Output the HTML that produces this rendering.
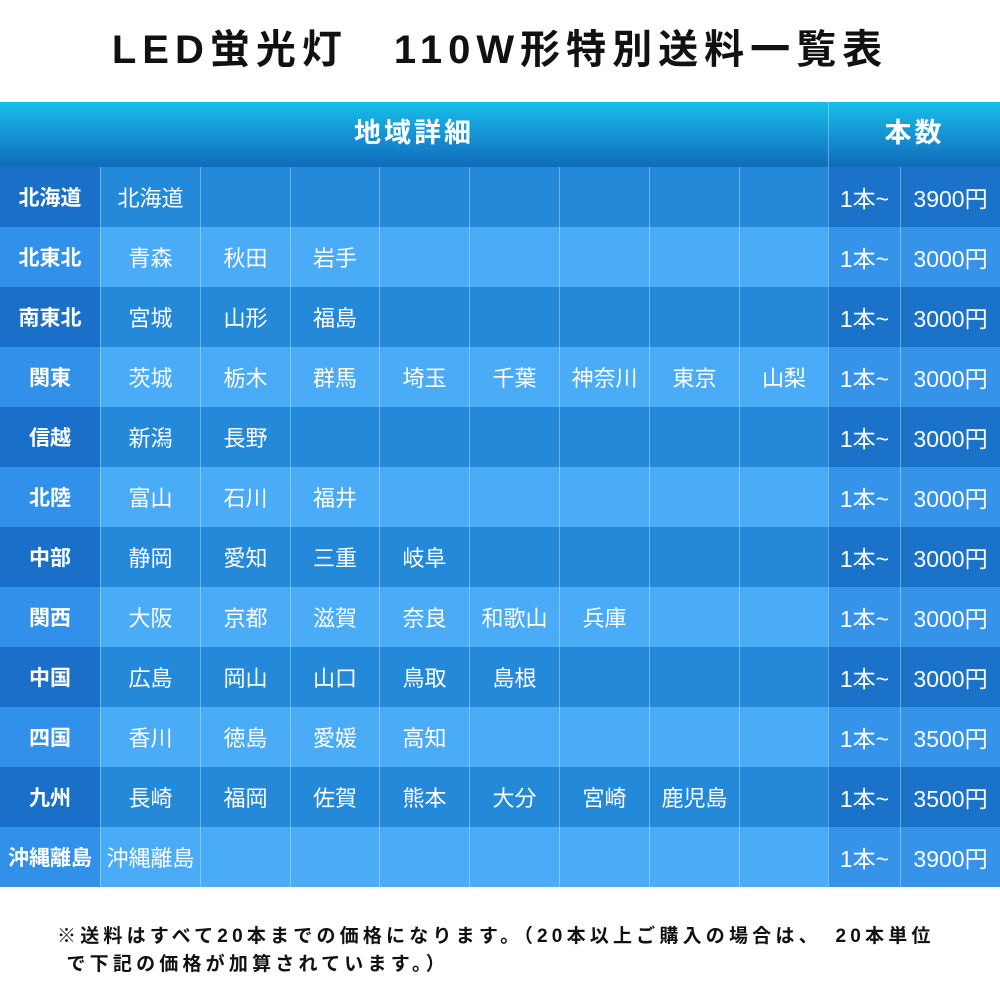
<!DOCTYPE html>
<html><head><meta charset="utf-8"><style>
*{margin:0;padding:0;box-sizing:border-box}
body{width:1000px;height:1000px;background:#fff;position:relative;overflow:hidden;font-family:"Liberation Sans","Noto Sans CJK JP",sans-serif}
.title{position:absolute;top:17px;left:0;width:1000px;text-align:center;font-size:40px;font-weight:bold;letter-spacing:6px;color:#111}
.hdr{position:absolute;top:102px;left:0;width:1000px;height:65px;background:linear-gradient(#17bfe7,#1590d3 55%,#0f6bb8);color:#fff;font-weight:bold;font-size:27px}
.hdr div{position:absolute;top:0;height:65px;line-height:62px;text-align:center;letter-spacing:3px}
.grid{position:absolute;top:167px;left:0;width:1000px;display:grid;grid-template-columns:100px 100px 90px 89px 90px 90px 90px 90px 89px 72px 100px;grid-auto-rows:60px}
.grid > .row{display:contents}
.row > div{display:flex;align-items:center;justify-content:center;color:#fff;font-size:22px;border-left:1px solid rgba(255,255,255,.35);white-space:nowrap}
.row > div.l{font-weight:bold;font-size:21px;border-left:none}
.row > div.r{font-size:23px}
.d .l{background:#1a6fc8}.d .m{background:#2489d9}.d .r{background:#1b72c9}
.e .l{background:#3190e9}.e .m{background:#4aabf7}.e .r{background:#3693ea}
.foot{position:absolute;left:57px;top:923px;font-size:19px;font-weight:bold;color:#111;letter-spacing:4.2px;line-height:28px;white-space:nowrap}
</style></head><body>
<div class="title">LED蛍光灯　110W形特別送料一覧表</div>
<div class="hdr"><div style="left:0;width:828px">地域詳細</div><div style="left:828px;width:172px;border-left:1px solid rgba(255,255,255,.35)">本数</div></div>
<div class="grid">
<div class="row d"><div class="l">北海道</div><div class="m">北海道</div><div class="m"></div><div class="m"></div><div class="m"></div><div class="m"></div><div class="m"></div><div class="m"></div><div class="m"></div><div class="r">1本~</div><div class="r">3900円</div></div>
<div class="row e"><div class="l">北東北</div><div class="m">青森</div><div class="m">秋田</div><div class="m">岩手</div><div class="m"></div><div class="m"></div><div class="m"></div><div class="m"></div><div class="m"></div><div class="r">1本~</div><div class="r">3000円</div></div>
<div class="row d"><div class="l">南東北</div><div class="m">宮城</div><div class="m">山形</div><div class="m">福島</div><div class="m"></div><div class="m"></div><div class="m"></div><div class="m"></div><div class="m"></div><div class="r">1本~</div><div class="r">3000円</div></div>
<div class="row e"><div class="l">関東</div><div class="m">茨城</div><div class="m">栃木</div><div class="m">群馬</div><div class="m">埼玉</div><div class="m">千葉</div><div class="m">神奈川</div><div class="m">東京</div><div class="m">山梨</div><div class="r">1本~</div><div class="r">3000円</div></div>
<div class="row d"><div class="l">信越</div><div class="m">新潟</div><div class="m">長野</div><div class="m"></div><div class="m"></div><div class="m"></div><div class="m"></div><div class="m"></div><div class="m"></div><div class="r">1本~</div><div class="r">3000円</div></div>
<div class="row e"><div class="l">北陸</div><div class="m">富山</div><div class="m">石川</div><div class="m">福井</div><div class="m"></div><div class="m"></div><div class="m"></div><div class="m"></div><div class="m"></div><div class="r">1本~</div><div class="r">3000円</div></div>
<div class="row d"><div class="l">中部</div><div class="m">静岡</div><div class="m">愛知</div><div class="m">三重</div><div class="m">岐阜</div><div class="m"></div><div class="m"></div><div class="m"></div><div class="m"></div><div class="r">1本~</div><div class="r">3000円</div></div>
<div class="row e"><div class="l">関西</div><div class="m">大阪</div><div class="m">京都</div><div class="m">滋賀</div><div class="m">奈良</div><div class="m">和歌山</div><div class="m">兵庫</div><div class="m"></div><div class="m"></div><div class="r">1本~</div><div class="r">3000円</div></div>
<div class="row d"><div class="l">中国</div><div class="m">広島</div><div class="m">岡山</div><div class="m">山口</div><div class="m">鳥取</div><div class="m">島根</div><div class="m"></div><div class="m"></div><div class="m"></div><div class="r">1本~</div><div class="r">3000円</div></div>
<div class="row e"><div class="l">四国</div><div class="m">香川</div><div class="m">徳島</div><div class="m">愛媛</div><div class="m">高知</div><div class="m"></div><div class="m"></div><div class="m"></div><div class="m"></div><div class="r">1本~</div><div class="r">3500円</div></div>
<div class="row d"><div class="l">九州</div><div class="m">長崎</div><div class="m">福岡</div><div class="m">佐賀</div><div class="m">熊本</div><div class="m">大分</div><div class="m">宮崎</div><div class="m">鹿児島</div><div class="m"></div><div class="r">1本~</div><div class="r">3500円</div></div>
<div class="row e"><div class="l">沖縄離島</div><div class="m">沖縄離島</div><div class="m"></div><div class="m"></div><div class="m"></div><div class="m"></div><div class="m"></div><div class="m"></div><div class="m"></div><div class="r">1本~</div><div class="r">3900円</div></div>
</div>
<div class="foot">※送料はすべて20本までの価格になります。（20本以上ご購入の場合は、　20本単位<br>&nbsp;で下記の価格が加算されています。）</div>
</body></html>
